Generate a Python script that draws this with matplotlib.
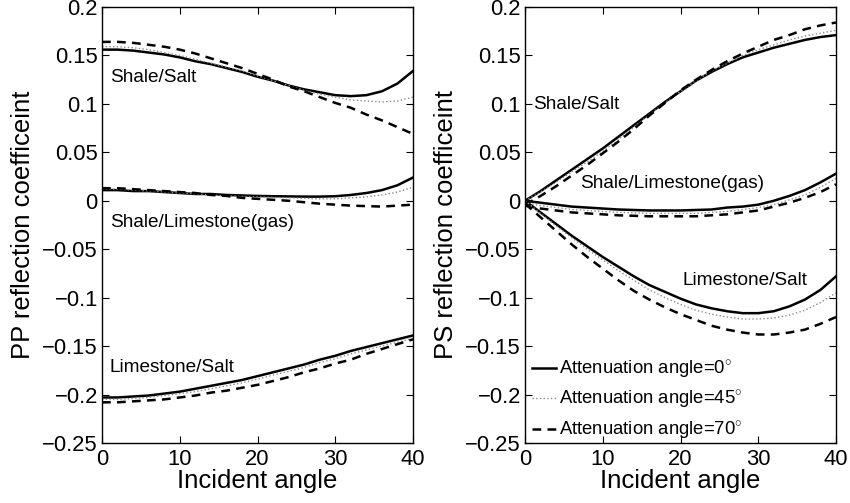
import numpy as np
import matplotlib
matplotlib.use('Agg')
import matplotlib.pyplot as plt

plt.rcParams['font.family'] = ['Liberation Sans', 'DejaVu Sans']
plt.rcParams['mathtext.fontset'] = 'custom'
plt.rcParams['mathtext.rm'] = 'Liberation Sans'

# incident angle (deg)
angle = [0, 2, 4, 6, 8, 10, 12, 14, 16, 18, 20, 22, 24, 26, 28, 30, 32, 34, 36, 38, 40]

# ---- PP reflection coefficient (attenuation angle 0 / 45 / 70 deg) ----
pp_shale_salt_0 = [0.156, 0.156, 0.155, 0.153, 0.151, 0.148, 0.144, 0.141, 0.137, 0.133, 0.128,
                   0.124, 0.119, 0.115, 0.112, 0.109, 0.108, 0.109, 0.113, 0.121, 0.134]
pp_shale_salt_45 = [0.159, 0.159, 0.158, 0.156, 0.153, 0.150, 0.146, 0.142, 0.138, 0.134, 0.129,
                    0.124, 0.119, 0.114, 0.110, 0.107, 0.104, 0.103, 0.102, 0.103, 0.107]
pp_shale_salt_70 = [0.164, 0.164, 0.163, 0.161, 0.159, 0.156, 0.152, 0.147, 0.142, 0.137, 0.131,
                    0.125, 0.118, 0.113, 0.107, 0.101, 0.096, 0.089, 0.083, 0.076, 0.069]

pp_shale_lime_0 = [0.011, 0.011, 0.010, 0.010, 0.009, 0.008, 0.007, 0.007, 0.006, 0.0055, 0.005,
                   0.0047, 0.0045, 0.0043, 0.0043, 0.0047, 0.006, 0.008, 0.011, 0.016, 0.024]
pp_shale_lime_45 = [0.012, 0.012, 0.011, 0.010, 0.009, 0.008, 0.007, 0.006, 0.005, 0.0045, 0.004,
                    0.0035, 0.003, 0.0025, 0.002, 0.002, 0.003, 0.004, 0.006, 0.009, 0.014]
pp_shale_lime_70 = [0.013, 0.013, 0.012, 0.011, 0.010, 0.009, 0.008, 0.006, 0.005, 0.003, 0.002,
                    0.001, 0.000, -0.0015, -0.003, -0.004, -0.005, -0.0055, -0.006, -0.005, -0.004]

pp_lime_salt_0 = [-0.203, -0.203, -0.202, -0.201, -0.199, -0.197, -0.194, -0.191, -0.188, -0.185, -0.181,
                  -0.177, -0.173, -0.169, -0.164, -0.160, -0.155, -0.151, -0.147, -0.143, -0.139]
pp_lime_salt_45 = [-0.205, -0.205, -0.204, -0.203, -0.201, -0.199, -0.197, -0.194, -0.191, -0.188, -0.184,
                   -0.180, -0.176, -0.172, -0.167, -0.163, -0.158, -0.154, -0.150, -0.146, -0.142]
pp_lime_salt_70 = [-0.208, -0.208, -0.207, -0.206, -0.205, -0.203, -0.201, -0.198, -0.196, -0.193, -0.190,
                   -0.186, -0.182, -0.177, -0.173, -0.168, -0.164, -0.158, -0.153, -0.148, -0.143]

# ---- PS reflection coefficient ----
ps_shale_salt_0 = [0.0, 0.010, 0.021, 0.032, 0.043, 0.054, 0.066, 0.078, 0.090, 0.102, 0.113,
                   0.124, 0.133, 0.141, 0.148, 0.153, 0.158, 0.162, 0.166, 0.169, 0.171]
ps_shale_salt_45 = [0.0, 0.009, 0.019, 0.030, 0.040, 0.051, 0.063, 0.076, 0.089, 0.101, 0.113,
                    0.124, 0.134, 0.142, 0.150, 0.156, 0.161, 0.166, 0.170, 0.173, 0.176]
ps_shale_salt_70 = [-0.004, 0.005, 0.015, 0.026, 0.037, 0.049, 0.061, 0.074, 0.088, 0.101, 0.114,
                    0.125, 0.135, 0.144, 0.152, 0.159, 0.166, 0.171, 0.177, 0.181, 0.184]

ps_shale_lime_0 = [0.0, -0.002, -0.004, -0.006, -0.007, -0.008, -0.009, -0.0095, -0.010, -0.010, -0.010,
                   -0.0095, -0.009, -0.007, -0.006, -0.004, 0.000, 0.005, 0.011, 0.019, 0.028]
ps_shale_lime_45 = [-0.002, -0.005, -0.007, -0.009, -0.010, -0.011, -0.012, -0.0125, -0.013, -0.013, -0.013,
                    -0.013, -0.012, -0.011, -0.009, -0.007, -0.004, 0.001, 0.006, 0.014, 0.023]
ps_shale_lime_70 = [-0.005, -0.008, -0.010, -0.012, -0.013, -0.014, -0.015, -0.0155, -0.016, -0.016, -0.016,
                    -0.016, -0.015, -0.014, -0.012, -0.010, -0.006, -0.002, 0.003, 0.009, 0.017]

ps_lime_salt_0 = [0.0, -0.012, -0.024, -0.036, -0.047, -0.058, -0.068, -0.078, -0.087, -0.094, -0.101,
                  -0.107, -0.111, -0.114, -0.116, -0.116, -0.114, -0.109, -0.102, -0.092, -0.078]
ps_lime_salt_45 = [0.0, -0.013, -0.026, -0.038, -0.050, -0.061, -0.072, -0.082, -0.092, -0.100, -0.107,
                   -0.113, -0.117, -0.120, -0.122, -0.122, -0.121, -0.118, -0.113, -0.105, -0.095]
ps_lime_salt_70 = [-0.003, -0.017, -0.031, -0.045, -0.058, -0.070, -0.082, -0.093, -0.102, -0.110, -0.117,
                   -0.123, -0.129, -0.133, -0.136, -0.138, -0.138, -0.136, -0.133, -0.127, -0.120]

legend_labels = [r'Attenuation angle=0$^{\circ}$',
                 r'Attenuation angle=45$^{\circ}$',
                 r'Attenuation angle=70$^{\circ}$']
yticks = [-0.25, -0.2, -0.15, -0.1, -0.05, 0, 0.05, 0.1, 0.15, 0.2]
xticks = [0, 10, 20, 30, 40]

# line styles for the three attenuation angles
styles = [dict(color='black', lw=1.8, ls='-'),
          dict(color='#8c8c8c', lw=1.0, ls=':'),
          dict(color='black', lw=1.8, ls=(0, (3.5, 2.5)))]

fig = plt.figure(figsize=(8.5, 5.03), dpi=100)
ax1 = fig.add_axes([102/850, 1-443/503, 311/850, 436/503])
ax2 = fig.add_axes([525/850, 1-443/503, 311/850, 436/503])

pp_groups = [
    (pp_shale_salt_0, pp_shale_salt_45, pp_shale_salt_70),
    (pp_shale_lime_0, pp_shale_lime_45, pp_shale_lime_70),
    (pp_lime_salt_0, pp_lime_salt_45, pp_lime_salt_70),
]
ps_groups = [
    (ps_shale_salt_0, ps_shale_salt_45, ps_shale_salt_70),
    (ps_shale_lime_0, ps_shale_lime_45, ps_shale_lime_70),
    (ps_lime_salt_0, ps_lime_salt_45, ps_lime_salt_70),
]

for grp in pp_groups:
    for vals, st in zip(grp, styles):
        ax1.plot(angle, vals, **st)

handles = []
for grp in ps_groups:
    hs = []
    for vals, st in zip(grp, styles):
        h, = ax2.plot(angle, vals, **st)
        hs.append(h)
    if not handles:
        handles = hs

# labels inside the plots
txt = dict(fontsize=13.7, va='center', ha='left')
ax1.text(1.0, 0.127, 'Shale/Salt', **txt)
ax1.text(1.0, -0.022, 'Shale/Limestone(gas)', **txt)
ax1.text(1.0, -0.172, 'Limestone/Salt', **txt)
ax2.text(1.0, 0.099, 'Shale/Salt', **txt)
ax2.text(7.1, 0.018, 'Shale/Limestone(gas)', **txt)
ax2.text(20.2, -0.082, 'Limestone/Salt', **txt)

ax2.legend(handles, legend_labels, loc='lower left', frameon=False,
           fontsize=13.3, handlelength=1.3, handletextpad=0.12,
           labelspacing=0.45, borderaxespad=0.0, bbox_to_anchor=(0.0, -0.014))

ytick_labels = [('%g' % v).replace('-', '\u2212') for v in yticks]
for ax, ylab in [(ax1, 'PP reflection coefficeint'), (ax2, 'PS reflection coefficeint')]:
    ax.set_xlim(0, 40)
    ax.set_ylim(-0.25, 0.2)
    ax.set_xticks(xticks)
    ax.set_yticks(yticks)
    ax.set_yticklabels(ytick_labels)
    ax.tick_params(direction='in', top=True, right=True, length=5, width=0.8,
                   labelsize=15.8)
    ax.tick_params(axis='x', pad=4)
    ax.tick_params(axis='y', pad=3)
    for sp in ax.spines.values():
        sp.set_linewidth(1.0)
    ax.set_xlabel('Incident angle', fontsize=18.5)
    ax.xaxis.set_label_coords(0.5, -0.06)
    ax.set_ylabel(ylab, fontsize=18.5)
    ax.yaxis.set_label_coords(-0.215, 0.5)

fig.savefig('out.png', dpi=100)
